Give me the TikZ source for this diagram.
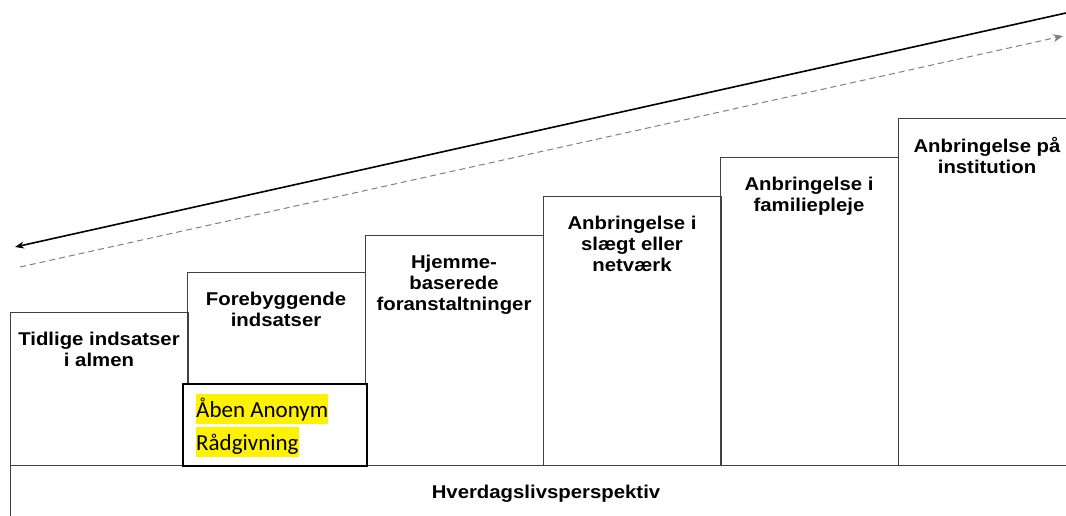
\documentclass[tikz,border=0pt]{standalone}
\usepackage{fontspec}
\setmainfont{Liberation Sans}[FakeStretch=1.1]
\newfontfamily\calibrifont{Carlito}
\usetikzlibrary{arrows.meta,positioning}

\tikzset{
  stepbox/.style={draw=black!75, line width=0.9pt, minimum width=178pt, anchor=south west, inner sep=0pt, outer sep=0pt},
  steptext/.style={font=\fontsize{18.5}{21}\selectfont\bfseries, align=center, inner sep=0pt},
  hilite/.style={fill=yellow, inner sep=0pt, text height=23pt, text depth=7pt, font=\fontsize{23}{33}\selectfont\calibrifont, anchor=base west}
}

\begin{document}
\begin{tikzpicture}[x=1pt,y=-1pt]
  \useasboundingbox (0,0) rectangle (1066,516);
  \clip (0,0) rectangle (1066,516);

  % trin
  \node[stepbox, minimum height=153pt] (s1) at (10,465) {};
  \node[stepbox, minimum height=193pt] (s2) at (187,465) {};
  \node[stepbox, minimum height=230pt] (s3) at (365,465) {};
  \node[stepbox, minimum height=269pt] (s4) at (543,465) {};
  \node[stepbox, minimum height=308pt] (s5) at (720,465) {};
  \node[stepbox, minimum height=347pt] (s6) at (898,465) {};

  \node[steptext, below=19.5pt of s1.north] (t1) {Tidlige indsatser\\i almen};
  \node[steptext, below=19.5pt of s2.north] (t2) {Forebyggende\\indsatser};
  \node[steptext, below=19.5pt of s3.north] (t3) {Hjemme-\\baserede\\foranstaltninger};
  \node[steptext, below=19.5pt of s4.north] (t4) {Anbringelse i\\slægt eller\\netværk};
  \node[steptext, below=19.5pt of s5.north] (t5) {Anbringelse i\\familiepleje};
  \node[steptext, below=19.5pt of s6.north] (t6) {Anbringelse på\\institution};

  % hverdagsliv
  \coordinate (bl) at (1066,465);
  \coordinate (vb) at (10,516);
  \draw[black!75, line width=0.9pt] (vb) -- (s1.south west) -- (bl);
  \node[steptext, anchor=base] (hv) at (546,498) {Hverdagslivsperspektiv};

  % aaben anonym raadgivning
  \node[draw=black, line width=1.8pt, fill=white, minimum width=184pt, minimum height=82pt,
        anchor=north west, inner sep=0pt, outer sep=0pt] (aar) at (183,384) {};
  \node[hilite] (aa1) at (196,417) {Åben Anonym};
  \node[hilite] (aa2) at (196,450) {Rådgivning};

  % pile
  \coordinate (a1) at (1066,13);
  \coordinate (a2) at (15,247);
  \draw[line width=1.6pt, -{Stealth[length=9pt,width=7pt]}] (a1) -- (a2);
  \coordinate (d1) at (20,267);
  \coordinate (d2) at (1063,36);
  \draw[gray, line width=1pt, dash pattern=on 6pt off 4pt, -{Stealth[length=10pt,width=8pt]}] (d1) -- (d2);
\end{tikzpicture}
\end{document}
